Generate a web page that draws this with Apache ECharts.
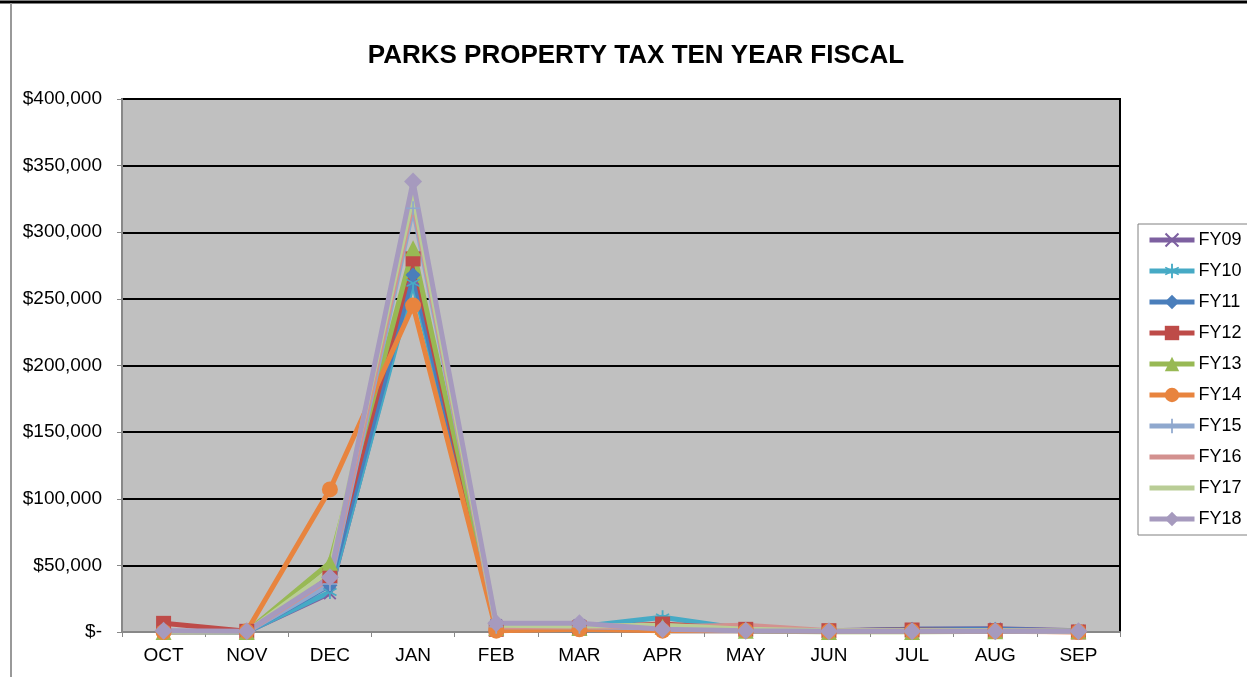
<!DOCTYPE html>
<html>
<head>
<meta charset="utf-8">
<script src="https://cdn.jsdelivr.net/npm/echarts@6/dist/echarts.min.js"></script>
<style>
  html, body { margin: 0; padding: 0; background: #fff; }
  #chart { width: 1247px; height: 677px; }
</style>
</head>
<body>
<div id="chart"></div>
<script>
// months of the fiscal year
var months = ['OCT', 'NOV', 'DEC', 'JAN', 'FEB', 'MAR', 'APR', 'MAY', 'JUN', 'JUL', 'AUG', 'SEP'];

// values
var fy09 = [500, 0, 29000, 265000, 5000, 5000, 3000, 1000, 1000, 2000, 2500, 1000];
var fy10 = [0, 0, 30000, 262000, 4000, 4000, 11000, 2000, 500, 1000, 1000, 500];
var fy11 = [0, 0, 35000, 268000, 3000, 3000, 1000, 1000, 500, 2000, 2000, 500];
var fy12 = [6500, 500, 42000, 280000, 2000, 3000, 6000, 2000, 1000, 1500, 1000, 0];
var fy13 = [0, 0, 52000, 288000, 3000, 3000, 4000, 1000, 0, 0, 500, 500];
var fy14 = [0, 500, 107000, 245000, 1000, 2000, 1000, 1000, 500, 500, 500, 0];
var fy15 = [0, 0, 36000, 318000, 4000, 4000, 3000, 1000, 1000, 1000, 1000, 500];
var fy16 = [0, 0, 40000, 323000, 4000, 4000, 4000, 5000, 1000, 1000, 1000, 500];
var fy17 = [0, 0, 46000, 328000, 5000, 4500, 5000, 2000, 1000, 1000, 1000, 500];
var fy18 = [1000, 500, 41000, 338000, 6500, 6500, 2000, 1000, 500, 500, 500, 500];

var yTicks = { min: 0, max: 400000, interval: 50000 };

// marker shapes (excel style)
var xMark = 'path://M1,0 L5,4 L9,0 L10,1 L6,5 L10,9 L9,10 L5,6 L1,10 L0,9 L4,5 L0,1 Z';
var starMark = 'path://M4.4,0 H5.6 V4 L9,2 L9.6,3 L6.2,5 L9.6,7 L9,8 L5.6,6 V10 H4.4 V6 L1,8 L0.4,7 L3.8,5 L0.4,3 L1,2 L4.4,4 Z';
var plusMark = 'path://M4.4,0 H5.6 V4.4 H10 V5.6 H5.6 V10 H4.4 V5.6 H0 V4.4 H4.4 Z';
// plain line for legend items without marker
var barMark = 'path://M0,0 H45 V5 H0 Z';

var font = 'Liberation Sans, Arial, sans-serif';

function mkSeries(name, data, color, symbol, size) {
    return {
        name: name,
        type: 'line',
        data: data,
        symbol: symbol,
        symbolSize: size,
        showSymbol: symbol !== 'none',
        lineStyle: { color: color, width: 5 },
        itemStyle: { color: color },
        emphasis: { disabled: true },
        animation: false
    };
}

var myChart = echarts.init(document.getElementById('chart'));
var option = {
    backgroundColor: '#fff',
    title: {
        text: 'PARKS PROPERTY TAX TEN YEAR FISCAL',
        left: 631,
        top: 38,
        textAlign: 'center',
        textStyle: { fontFamily: font, fontSize: 26, fontWeight: 'bold', color: '#000' }
    },
    legend: {
        orient: 'vertical',
        left: 1138,
        top: 224,
        width: 107,
        itemWidth: 45,
        itemHeight: 18,
        itemGap: 13,
        padding: [7, 6, 7, 9],
        borderColor: '#808080',
        borderWidth: 1,
        lineStyle: { width: 5 },
        textStyle: { fontFamily: font, fontSize: 18, color: '#000', padding: [0, 0, 0, -1] },
        data: ['FY09', 'FY10', 'FY11', 'FY12', 'FY13', 'FY14', 'FY15',
            { name: 'FY16', icon: barMark }, { name: 'FY17', icon: barMark }, 'FY18']
    },
    grid: {
        left: 122,
        right: 127,
        top: 99,
        bottom: 45,
        show: true,
        backgroundColor: '#c0c0c0',
        borderColor: '#000',
        borderWidth: 2
    },
    xAxis: {
        type: 'category',
        data: months,
        boundaryGap: true,
        axisLine: { lineStyle: { color: '#888', width: 2 } },
        axisTick: { show: true, length: 5, lineStyle: { color: '#888' } },
        axisLabel: { fontFamily: font, fontSize: 19, color: '#000', margin: 14 }
    },
    yAxis: {
        type: 'value',
        min: yTicks.min,
        max: yTicks.max,
        interval: yTicks.interval,
        axisLine: { show: true, lineStyle: { color: '#888', width: 2 } },
        axisTick: { show: true, length: 5, lineStyle: { color: '#888' } },
        splitLine: { lineStyle: { color: '#000', width: 2 } },
        axisLabel: {
            fontFamily: font, fontSize: 19, color: '#000', margin: 20,
            formatter: function (v) {
                return v === 0 ? '$-' : '$' + v.toLocaleString('en-US');
            }
        }
    },
    graphic: [
        { type: 'line', shape: { x1: 0, y1: 2, x2: 1247, y2: 2 }, style: { stroke: '#000', lineWidth: 3 } },
        { type: 'line', shape: { x1: 11, y1: 3, x2: 11, y2: 677 }, style: { stroke: '#999', lineWidth: 2 } }
    ],
    series: [
        mkSeries('FY09', fy09, '#7D60A0', xMark, 13),
        mkSeries('FY10', fy10, '#46AAC5', starMark, 14),
        mkSeries('FY11', fy11, '#4A7EBB', 'diamond', 15),
        mkSeries('FY12', fy12, '#BE4B48', 'rect', 15),
        mkSeries('FY13', fy13, '#98B954', 'triangle', 16),
        mkSeries('FY14', fy14, '#E8843E', 'circle', 16),
        mkSeries('FY15', fy15, '#8FA8CE', plusMark, 14),
        mkSeries('FY16', fy16, '#D3918F', 'none', 0),
        mkSeries('FY17', fy17, '#B9CD96', 'none', 0),
        mkSeries('FY18', fy18, '#A69ABE', 'diamond', 18)
    ]
};
myChart.setOption(option);
</script>
</body>
</html>
